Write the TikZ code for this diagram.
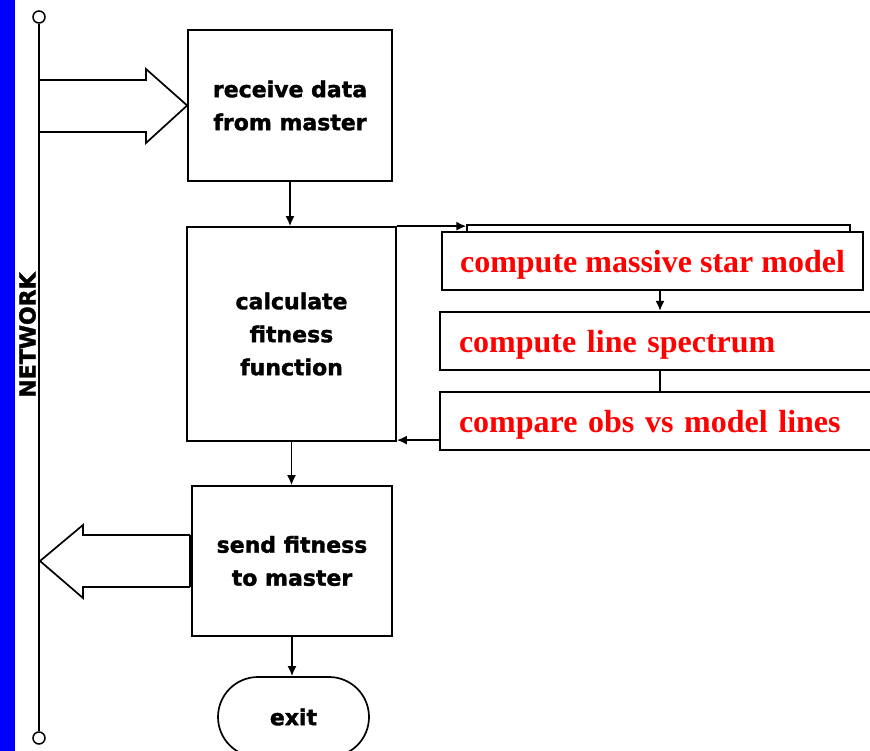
\documentclass[tikz,border=0pt]{standalone}
\usepackage{fontspec}
\setmainfont{Liberation Serif}
\newfontfamily\djv{DejaVu Sans}[BoldFeatures={FakeBold=1.6}]
\usetikzlibrary{arrows.meta,shapes.misc}
\definecolor{netblue}{RGB}{0,0,255}
\definecolor{txtred}{RGB}{255,0,0}
\begin{document}
\begin{tikzpicture}[x=1pt,y=-1pt,
  blk/.style={draw,line width=1.7pt,fill=white,align=center,inner sep=0pt,
    font=\djv\bfseries\fontsize{22}{33}\selectfont},
  redbox/.style={draw,line width=2.2pt,fill=white,inner sep=0pt,text=txtred,text depth=0pt,
    font=\bfseries\fontsize{32}{36}\selectfont},
  conn/.style={line width=1.7pt},
  arr/.style={conn,-{Latex[length=10pt,width=9pt]}},
  hollow/.style={line width=1.7pt,line join=miter}
]
\useasboundingbox (0,0) rectangle (870,751);
\clip (0,0) rectangle (870,751);
\fill[netblue] (0,0) rectangle (15,751);

% network bus
\node[circle,draw,line width=1.5pt,minimum size=12pt,inner sep=0pt] (ntop) at (39,17) {};
\node[circle,draw,line width=1.5pt,minimum size=12pt,inner sep=0pt] (nbot) at (39,738) {};
\draw[line width=1.7pt] (ntop.south) -- (nbot.north);
\node[rotate=90,font=\djv\bfseries\fontsize{22}{26}\selectfont,inner sep=0pt] (netlabel) at (27.5,335) {NETWORK};

% left column boxes
\node[blk,minimum width=204pt,minimum height=151pt] (recv) at (290,105.5) {receive data\\from master};
\node[blk,minimum width=209pt,minimum height=214pt] (calc) at (291.5,334) {calculate\\fitness\\function};
\node[blk,minimum width=200pt,minimum height=150pt] (send) at (292,561) {send fitness\\to master};
\node[blk,rounded rectangle,minimum width=151pt,minimum height=80pt] (exit) at (293.5,717) {exit};

% right column boxes
\node[draw,line width=1.3pt,minimum width=383pt,minimum height=20pt,inner sep=0pt] (back) at (658.5,235) {};
\node[redbox,minimum width=421pt,minimum height=58pt] (box1) at (652.5,261) {compute massive star model};
\node[redbox,minimum width=440pt,minimum height=58pt,text width=402pt,inner xsep=19pt,align=left] (box2) at (660,341) {compute line spectrum};
\node[redbox,minimum width=440pt,minimum height=58pt,text width=402pt,inner xsep=19pt,align=left] (box3) at (660,421) {compare obs vs model lines};

% connectors
\draw[arr] (recv.south) -- (recv.south |- calc.north);
\draw[arr] (calc.south) -- (calc.south |- send.north);
\draw[arr] (send.south) -- (send.south |- exit.north);
\draw[arr] (calc.north east) -- (back.west |- calc.north east);
\draw[arr] (box2.north |- box1.south) -- (box2.north);
\draw[conn] (box2.south) -- (box3.north);
\draw[arr] ([yshift=11pt]box3.south west) -- ([yshift=11pt]box3.south west -| calc.east);

% hollow block arrows
\draw[hollow] (39,80) -- (146,80) -- (146,69) -- (recv.west) -- (146,143) -- (146,132) -- (39,132);
\draw[hollow] (190,535) -- (83,535) -- (83,525) -- (40,561) -- (83,598) -- (83,587) -- (190,587);
\draw[line width=3pt] (190,535) -- (190,587);
\end{tikzpicture}
\end{document}
